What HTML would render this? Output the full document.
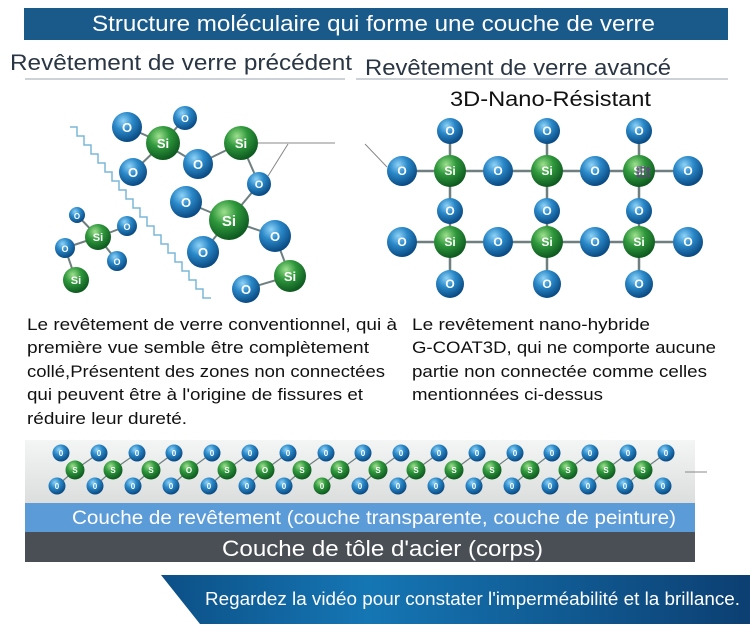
<!DOCTYPE html>
<html><head><meta charset="utf-8"><style>
html,body{margin:0;padding:0;background:#fff;}
svg{display:block;}
text{font-family:"Liberation Sans",sans-serif;}
.bl{fill:url(#gb);} .gr{fill:url(#gg);}
.lb{fill:#fff;font-weight:bold;text-anchor:middle;}
</style></head><body>
<svg width="750" height="632" viewBox="0 0 750 632" xmlns="http://www.w3.org/2000/svg">
<defs>
<radialGradient id="gb" cx="38%" cy="30%" r="70%"><stop offset="0" stop-color="#8fd3f7"/><stop offset="0.45" stop-color="#2a88c8"/><stop offset="1" stop-color="#0a4a82"/></radialGradient>
<radialGradient id="gg" cx="38%" cy="30%" r="70%"><stop offset="0" stop-color="#9ee08e"/><stop offset="0.45" stop-color="#2f983c"/><stop offset="1" stop-color="#0e5a20"/></radialGradient>
<linearGradient id="strip" x1="0" y1="0" x2="0" y2="1"><stop offset="0" stop-color="#f4f5f5"/><stop offset="1" stop-color="#dcdede"/></linearGradient>
<linearGradient id="ban" x1="0" y1="0" x2="1" y2="0"><stop offset="0" stop-color="#0c4f86"/><stop offset="0.35" stop-color="#1576b4"/><stop offset="1" stop-color="#0c3f72"/></linearGradient>
</defs>

<!-- title -->
<rect x="24" y="8" width="704" height="32" fill="#1a5a8a"/>
<text x="92" y="31" font-size="22" fill="#fff" textLength="563" lengthAdjust="spacingAndGlyphs">Structure moléculaire qui forme une couche de verre</text>

<text x="10" y="70" font-size="22" fill="#2a3644" textLength="342" lengthAdjust="spacingAndGlyphs">Revêtement de verre précédent</text>
<line x1="25" y1="79" x2="345" y2="79" stroke="#9aa6b0" stroke-width="1"/>
<text x="365" y="75" font-size="22" fill="#2a3644" textLength="306" lengthAdjust="spacingAndGlyphs">Revêtement de verre avancé</text>
<line x1="356" y1="79" x2="728" y2="79" stroke="#9aa6b0" stroke-width="1"/>
<text x="450" y="106" font-size="21" fill="#111" textLength="201" lengthAdjust="spacingAndGlyphs">3D-Nano-Résistant</text>

<!-- left molecule -->
<path d="M70 127 h7 v9 h7 v9 h7 v9 h7 v9 h7 v9 h7 v9 h7 v9 h7 v9 h7 v9 h7 v9 h7 v9 h7 v9 h7 v9 h7 v9 h7 v9 h7 v9 h7 v9 h7 v9 h7 v9 h8" fill="none" stroke="#7ab8d8" stroke-width="1.5"/>
<g stroke="#6f7f7f" stroke-width="2">
<line x1="163" y1="143" x2="127" y2="127"/><line x1="163" y1="143" x2="185" y2="118"/><line x1="163" y1="143" x2="133" y2="172"/><line x1="163" y1="143" x2="198" y2="164"/>
<line x1="198" y1="164" x2="241" y2="143"/><line x1="241" y1="143" x2="259" y2="184"/><line x1="259" y1="184" x2="229" y2="220"/>
<line x1="229" y1="220" x2="186" y2="202"/><line x1="229" y1="220" x2="275" y2="236"/><line x1="229" y1="220" x2="203" y2="252"/>
<line x1="275" y1="236" x2="290" y2="276"/><line x1="290" y1="276" x2="246" y2="289"/>
<line x1="98" y1="237" x2="77" y2="215"/><line x1="98" y1="237" x2="127" y2="226"/><line x1="98" y1="237" x2="65" y2="248"/><line x1="98" y1="237" x2="117" y2="261"/><line x1="65" y1="248" x2="76" y2="280"/>
</g>
<g stroke="#888" stroke-width="1"><line x1="241" y1="143" x2="335" y2="143"/><line x1="288" y1="144" x2="268" y2="176"/><line x1="365" y1="144" x2="387" y2="167"/></g>
<circle class="bl" cx="127" cy="127" r="15"/><circle class="bl" cx="185" cy="118" r="12"/><circle class="gr" cx="163" cy="143" r="17"/>
<circle class="bl" cx="133" cy="172" r="14"/><circle class="bl" cx="198" cy="164" r="15"/><circle class="gr" cx="241" cy="143" r="17"/>
<circle class="bl" cx="259" cy="184" r="12"/><circle class="bl" cx="186" cy="202" r="16"/><circle class="gr" cx="229" cy="220" r="20"/>
<circle class="bl" cx="275" cy="236" r="16"/><circle class="bl" cx="203" cy="252" r="16"/><circle class="gr" cx="290" cy="276" r="16"/><circle class="bl" cx="246" cy="289" r="14"/>
<circle class="bl" cx="77" cy="215" r="8"/><circle class="gr" cx="98" cy="237" r="13"/><circle class="bl" cx="127" cy="226" r="10"/><circle class="bl" cx="65" cy="248" r="10"/><circle class="bl" cx="117" cy="261" r="10"/><circle class="gr" cx="76" cy="280" r="13"/>
<g class="lb" font-size="13">
<text x="127" y="132">O</text><text x="185" y="122" font-size="10">O</text><text x="163" y="148">Si</text><text x="133" y="177">O</text><text x="198" y="169">O</text><text x="241" y="148">Si</text><text x="259" y="188" font-size="11">O</text><text x="186" y="207">O</text><text x="229" y="226" font-size="15">Si</text><text x="275" y="241">O</text><text x="203" y="257">O</text><text x="290" y="281">Si</text><text x="246" y="294">O</text>
<text x="77" y="219" font-size="8">O</text><text x="98" y="241" font-size="11">Si</text><text x="127" y="230" font-size="9">O</text><text x="65" y="252" font-size="9">O</text><text x="117" y="265" font-size="9">O</text><text x="76" y="284" font-size="11">Si</text>
</g>

<!-- right grid -->
<g stroke="#6f7f7f" stroke-width="2.5">
<line x1="402" y1="171" x2="688" y2="171"/><line x1="402" y1="242" x2="688" y2="242"/>
<line x1="450" y1="131" x2="450" y2="284"/><line x1="547" y1="131" x2="547" y2="284"/><line x1="639" y1="131" x2="639" y2="284"/>
</g>
<g>
<circle class="bl" cx="450" cy="131" r="13"/><circle class="bl" cx="547" cy="131" r="13"/><circle class="bl" cx="639" cy="131" r="13"/>
<circle class="bl" cx="402" cy="171" r="15"/><circle class="gr" cx="450" cy="171" r="16"/><circle class="bl" cx="498" cy="171" r="15"/><circle class="gr" cx="547" cy="171" r="16"/><circle class="bl" cx="595" cy="171" r="15"/><circle class="gr" cx="639" cy="171" r="16"/><circle class="bl" cx="688" cy="171" r="15"/>
<circle class="bl" cx="450" cy="211" r="13"/><circle class="bl" cx="547" cy="211" r="13"/><circle class="bl" cx="639" cy="211" r="13"/>
<circle class="bl" cx="402" cy="242" r="15"/><circle class="gr" cx="450" cy="242" r="16"/><circle class="bl" cx="498" cy="242" r="15"/><circle class="gr" cx="547" cy="242" r="16"/><circle class="bl" cx="595" cy="242" r="15"/><circle class="gr" cx="639" cy="242" r="16"/><circle class="bl" cx="688" cy="242" r="15"/>
<circle class="bl" cx="450" cy="284" r="14"/><circle class="bl" cx="547" cy="284" r="14"/><circle class="bl" cx="639" cy="284" r="14"/>
</g>
<g class="lb" font-size="12">
<text x="450" y="135">O</text><text x="547" y="135">O</text><text x="639" y="135">O</text>
<text x="402" y="175">O</text><text x="450" y="175">Si</text><text x="498" y="175">O</text><text x="547" y="175">Si</text><text x="595" y="175">O</text><text x="639" y="175">Si</text><text x="688" y="175">O</text>
<text x="450" y="215">O</text><text x="547" y="215">O</text><text x="639" y="215">O</text>
<text x="402" y="246">O</text><text x="450" y="246">Si</text><text x="498" y="246">O</text><text x="547" y="246">Si</text><text x="595" y="246">O</text><text x="639" y="246">Si</text><text x="688" y="246">O</text>
<text x="450" y="288">O</text><text x="547" y="288">O</text><text x="639" y="288">O</text>
</g>
<text x="636" y="177" font-size="15" fill="none" stroke="#6a3a8a" stroke-width="0.8">Et</text>

<!-- paragraphs -->
<g font-size="17" fill="#111">
<text x="27" y="330" textLength="370" lengthAdjust="spacingAndGlyphs">Le revêtement de verre conventionnel, qui à</text>
<text x="27" y="353" textLength="342" lengthAdjust="spacingAndGlyphs">première vue semble être complètement</text>
<text x="27" y="377" textLength="358" lengthAdjust="spacingAndGlyphs">collé,Présentent des zones non connectées</text>
<text x="27" y="400" textLength="336" lengthAdjust="spacingAndGlyphs">qui peuvent être à l'origine de fissures et</text>
<text x="27" y="424" textLength="160" lengthAdjust="spacingAndGlyphs">réduire leur dureté.</text>
<text x="412" y="330" textLength="238" lengthAdjust="spacingAndGlyphs">Le revêtement nano-hybride</text>
<text x="412" y="353" textLength="304" lengthAdjust="spacingAndGlyphs">G-COAT3D, qui ne comporte aucune</text>
<text x="412" y="377" textLength="295" lengthAdjust="spacingAndGlyphs">partie non connectée comme celles</text>
<text x="412" y="400" textLength="191" lengthAdjust="spacingAndGlyphs">mentionnées ci-dessus</text>
</g>

<!-- bottom strip -->
<rect x="25" y="440" width="670" height="63" fill="url(#strip)"/>
<line x1="685" y1="472" x2="707" y2="472" stroke="#888" stroke-width="1"/>
<g stroke="#6f7f7f" stroke-width="1.2" fill="none">
<polyline points="57,486 75,470 99,453"/><polyline points="95,486 113,470 137,453"/><polyline points="133,486 151,470 174,453"/><polyline points="171,486 189,470 212,453"/>
<polyline points="209,486 227,470 250,453"/><polyline points="247,486 265,470 288,453"/><polyline points="284,486 302,470 326,453"/><polyline points="322,486 340,470 363,453"/>
<polyline points="360,486 378,470 401,453"/><polyline points="398,486 416,470 439,453"/><polyline points="436,486 454,470 477,453"/><polyline points="474,486 492,470 515,453"/>
<polyline points="512,486 530,470 552,453"/><polyline points="550,486 568,470 590,453"/><polyline points="588,486 606,470 628,453"/><polyline points="625,486 643,470 666,453"/>
</g>
<g class="bl">
<circle cx="61" cy="453" r="8.5"/><circle cx="99" cy="453" r="8.5"/><circle cx="137" cy="453" r="8.5"/><circle cx="174" cy="453" r="8.5"/><circle cx="212" cy="453" r="8.5"/><circle cx="250" cy="453" r="8.5"/><circle cx="288" cy="453" r="8.5"/><circle cx="326" cy="453" r="8.5"/><circle cx="363" cy="453" r="8.5"/><circle cx="401" cy="453" r="8.5"/><circle cx="439" cy="453" r="8.5"/><circle cx="477" cy="453" r="8.5"/><circle cx="515" cy="453" r="8.5"/><circle cx="552" cy="453" r="8.5"/><circle cx="590" cy="453" r="8.5"/><circle cx="628" cy="453" r="8.5"/><circle cx="666" cy="453" r="8.5"/>
<circle cx="57" cy="486" r="8.5"/><circle cx="95" cy="486" r="8.5"/><circle cx="133" cy="486" r="8.5"/><circle cx="171" cy="486" r="8.5"/><circle cx="209" cy="486" r="8.5"/><circle cx="247" cy="486" r="8.5"/><circle cx="284" cy="486" r="8.5"/><circle cx="360" cy="486" r="8.5"/><circle cx="398" cy="486" r="8.5"/><circle cx="436" cy="486" r="8.5"/><circle cx="474" cy="486" r="8.5"/><circle cx="512" cy="486" r="8.5"/><circle cx="550" cy="486" r="8.5"/><circle cx="588" cy="486" r="8.5"/><circle cx="625" cy="486" r="8.5"/><circle cx="663" cy="486" r="8.5"/>
</g>
<g class="gr">
<circle cx="322" cy="486" r="8.5"/>
<circle cx="75" cy="470" r="9.5"/><circle cx="113" cy="470" r="9.5"/><circle cx="151" cy="470" r="9.5"/><circle cx="189" cy="470" r="9.5"/><circle cx="227" cy="470" r="9.5"/><circle cx="265" cy="470" r="9.5"/><circle cx="302" cy="470" r="9.5"/><circle cx="340" cy="470" r="9.5"/><circle cx="378" cy="470" r="9.5"/><circle cx="416" cy="470" r="9.5"/><circle cx="454" cy="470" r="9.5"/><circle cx="492" cy="470" r="9.5"/><circle cx="530" cy="470" r="9.5"/><circle cx="568" cy="470" r="9.5"/><circle cx="606" cy="470" r="9.5"/><circle cx="643" cy="470" r="9.5"/>
</g>
<g class="lb" font-size="8">
<text x="61" y="456">0</text><text x="99" y="456">0</text><text x="137" y="456">0</text><text x="174" y="456">0</text><text x="212" y="456">0</text><text x="250" y="456">0</text><text x="288" y="456">0</text><text x="326" y="456">0</text><text x="363" y="456">0</text><text x="401" y="456">0</text><text x="439" y="456">0</text><text x="477" y="456">0</text><text x="515" y="456">0</text><text x="552" y="456">0</text><text x="590" y="456">0</text><text x="628" y="456">0</text><text x="666" y="456">0</text>
<text x="57" y="489">0</text><text x="95" y="489">0</text><text x="133" y="489">0</text><text x="171" y="489">0</text><text x="209" y="489">0</text><text x="247" y="489">0</text><text x="284" y="489">0</text><text x="322" y="489">0</text><text x="360" y="489">0</text><text x="398" y="489">0</text><text x="436" y="489">0</text><text x="474" y="489">0</text><text x="512" y="489">0</text><text x="550" y="489">0</text><text x="588" y="489">0</text><text x="625" y="489">0</text><text x="663" y="489">0</text>
<text x="75" y="473">S</text><text x="113" y="473">S</text><text x="151" y="473">S</text><text x="189" y="473">O</text><text x="227" y="473">S</text><text x="265" y="473">O</text><text x="302" y="473">S</text><text x="340" y="473">S</text><text x="378" y="473">S</text><text x="416" y="473">S</text><text x="454" y="473">S</text><text x="492" y="473">S</text><text x="530" y="473">S</text><text x="568" y="473">S</text><text x="606" y="473">S</text><text x="643" y="473">S</text>
</g>

<rect x="25" y="503" width="670" height="29" fill="#5b9bd8"/>
<text x="72" y="524" font-size="19" fill="#fff" textLength="604" lengthAdjust="spacingAndGlyphs">Couche de revêtement (couche transparente, couche de peinture)</text>
<rect x="25" y="532" width="670" height="30" fill="#4a4f56"/>
<text x="222" y="556" font-size="22" fill="#fff" textLength="321" lengthAdjust="spacingAndGlyphs">Couche de tôle d'acier (corps)</text>

<!-- banner -->
<polygon points="161,575 750,575 750,624 200,624" fill="url(#ban)"/>
<text x="205" y="605" font-size="18" fill="#fff" textLength="535" lengthAdjust="spacingAndGlyphs">Regardez la vidéo pour constater l'imperméabilité et la brillance.</text>
</svg>
</body></html>
